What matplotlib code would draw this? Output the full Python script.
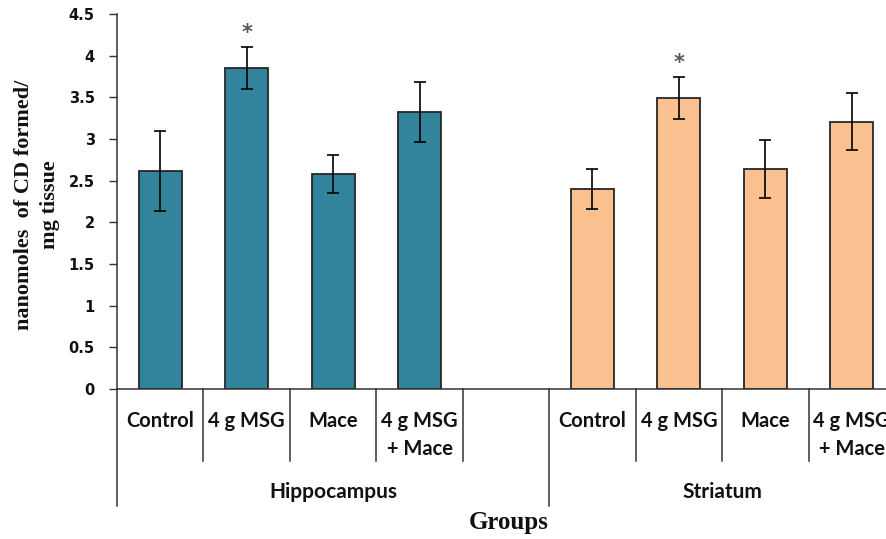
import matplotlib
matplotlib.use("Agg")
import matplotlib.pyplot as plt
from matplotlib.transforms import blended_transform_factory

# Conjugated diene levels (nanomoles / mg tissue), mean and error
groups = ["Hippocampus", "Striatum"]
treatments = ["Control", "4 g MSG", "Mace", "4 g MSG\n+ Mace"]
hippo_mean = [2.62, 3.85, 2.58, 3.33]
hippo_err = [0.48, 0.25, 0.23, 0.36]
stria_mean = [2.40, 3.49, 2.64, 3.21]
stria_err = [0.235, 0.25, 0.345, 0.345]
significant = [False, True, False, False]

y_ticks = [0, 0.5, 1, 1.5, 2, 2.5, 3, 3.5, 4, 4.5]
y_tick_labels = ["0", "0.5", "1", "1.5", "2", "2.5", "3", "3.5", "4", "4.5"]

teal = "#31849B"
peach = "#FAC090"
edge = "#262626"

fig = plt.figure(figsize=(8.87, 5.39), dpi=100)
ax = fig.add_axes([117 / 887, 150 / 539, 778 / 887, 375 / 539])

# Category slots: 4 hippocampus bars, one empty slot, 4 striatum bars
hippo_x = list(range(4))
stria_x = [5 + i for i in range(4)]

err_kw = dict(ecolor="black", elinewidth=1.2, capsize=4.3, capthick=1.2)
ax.bar(hippo_x, hippo_mean, width=0.5, color=teal, edgecolor=edge,
       linewidth=1.3, yerr=hippo_err, error_kw=err_kw, zorder=2)
ax.bar(stria_x, stria_mean, width=0.5, color=peach, edgecolor=edge,
       linewidth=1.3, yerr=stria_err, error_kw=err_kw, zorder=2)

# Significance marks
for xs, means, errs in ((hippo_x, hippo_mean, hippo_err),
                        (stria_x, stria_mean, stria_err)):
    for x, m, e, s in zip(xs, means, errs, significant):
        if s:
            ax.annotate("*", xy=(x, m + e), xytext=(0, 10),
                        textcoords="offset points", ha="center", va="center",
                        fontsize=15, color="#595959", fontweight="bold",
                        annotation_clip=False)

ax.set_xlim(-0.5, 8.5)
ax.set_ylim(0, 4.5)
ax.set_yticks(y_ticks)
ax.set_yticklabels(y_tick_labels, fontfamily="DejaVu Sans",
                   fontweight="bold", fontsize=10.5, color="#111111")
ax.tick_params(axis="y", direction="out", length=6, width=1,
               color="#333333", pad=10)
ax.set_xticks([])
for side in ("top", "right"):
    ax.spines[side].set_visible(False)
for side in ("left", "bottom"):
    ax.spines[side].set_color("#333333")
    ax.spines[side].set_linewidth(1.1)

# Multi-level category axis
trans = blended_transform_factory(ax.transData, ax.transAxes)
short_y = -(461 - 389) / 375
long_y = -(506 - 389) / 375
line_kw = dict(color="#333333", linewidth=1.1, clip_on=False,
               transform=trans)

for b in [0.5, 1.5, 2.5, 3.5, 5.5, 6.5, 7.5]:
    ax.plot([b, b], [0, short_y], **line_kw)
for b in [-0.5, 4.5, 8.5]:
    ax.plot([b, b], [0, long_y], **line_kw)

label_top = -(411 - 389) / 375
for xs in (hippo_x, stria_x):
    for x, t in zip(xs, treatments):
        ax.text(x, label_top, t, transform=trans, ha="center", va="top",
                fontfamily="Lato", fontweight="bold", fontsize=14.5,
                linespacing=1.5, color="#111111", clip_on=False)

group_y = -(492 - 389) / 375
group_centers = [2.0, 6.5]
for gx, g in zip(group_centers, groups):
    ax.text(gx, group_y, g, transform=trans, ha="center", va="center",
            fontfamily="Lato", fontweight="bold", fontsize=15,
            color="#111111", clip_on=False)

fig.text(509 / 887, 1 - 523 / 539, "Groups", ha="center", va="center",
         fontfamily="Liberation Serif", fontweight="bold", fontsize=18,
         color="#111111")

fig.text(37 / 887, 1 - 205 / 539, "nanomoles  of CD formed/\nmg tissue",
         rotation=90, ha="center", va="center", multialignment="center",
         fontfamily="Liberation Serif", fontweight="bold", fontsize=16,
         linespacing=1.35, color="#111111")

fig.savefig("out.png", dpi=100)
